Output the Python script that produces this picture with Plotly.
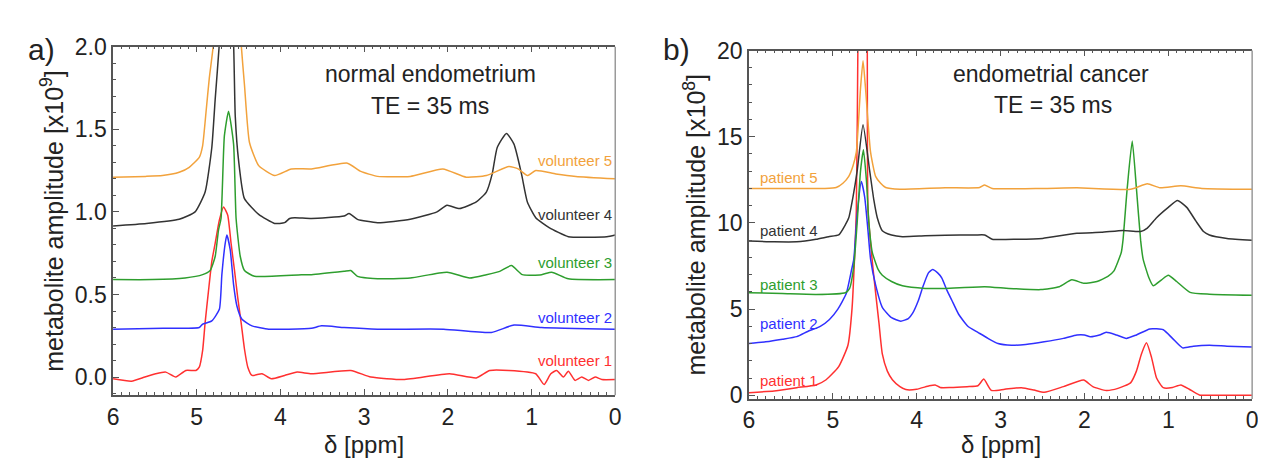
import plotly.graph_objects as go

# ---------------- data: panel a (normal endometrium), amplitude in 1e9 ----------------
v1_ppm = [6.0, 5.78, 5.62, 5.49, 5.37, 5.25, 5.13, 5.01, 4.97, 4.93, 4.90, 4.86, 4.82, 4.78, 4.73, 4.68,
          4.63, 4.59, 4.55, 4.51, 4.47, 4.43, 4.39, 4.34, 4.22, 4.11, 3.95, 3.80, 3.63, 3.16, 2.92,
          2.53, 1.98, 1.66, 1.50, 1.27, 0.95, 0.85, 0.77, 0.70, 0.62, 0.56, 0.48, 0.40, 0.32, 0.24, 0.16, 0.0]
v1_amp = [-0.01, -0.025, 0.0, 0.02, 0.03, 0.0, 0.04, 0.04, 0.06, 0.16, 0.33, 0.52, 0.70, 0.81, 0.95, 1.03,
          0.98, 0.81, 0.65, 0.48, 0.33, 0.17, 0.06, 0.01, 0.02, -0.01, 0.01, 0.03, 0.02, 0.04, 0.0,
          -0.015, 0.02, -0.005, 0.04, 0.04, 0.02, -0.045, 0.02, 0.04, 0.0, 0.035, -0.02, 0.0, -0.02, 0.0, -0.015, -0.015]

v2_ppm = [6.0, 5.4, 4.97, 4.93, 4.82, 4.73, 4.70, 4.66, 4.64, 4.60, 4.56, 4.52, 4.46, 4.34, 4.14, 3.90,
          3.63, 3.51, 3.24, 2.84, 2.05, 1.48, 1.21, 0.88, 0.0]
v2_amp = [0.29, 0.295, 0.30, 0.32, 0.34, 0.41, 0.62, 0.81, 0.86, 0.77, 0.56, 0.43, 0.35, 0.31, 0.29, 0.29,
          0.295, 0.31, 0.30, 0.29, 0.29, 0.27, 0.315, 0.30, 0.29]

v3_ppm = [6.0, 5.53, 5.14, 4.93, 4.84, 4.78, 4.74, 4.71, 4.67, 4.62, 4.56, 4.53, 4.48, 4.43, 4.31, 3.75,
          3.63, 3.24, 3.16, 3.08, 2.84, 2.45, 2.01, 1.74, 1.54, 1.38, 1.24, 1.11, 0.88, 0.76, 0.56, 0.0]
v3_amp = [0.59, 0.59, 0.60, 0.62, 0.645, 0.73, 0.89, 0.96, 1.46, 1.61, 1.41, 0.96, 0.73, 0.645, 0.61, 0.62,
          0.62, 0.64, 0.645, 0.61, 0.595, 0.60, 0.635, 0.60, 0.62, 0.64, 0.675, 0.62, 0.62, 0.635, 0.595, 0.59]

v4_ppm = [6.0, 5.6, 5.21, 5.02, 4.90, 4.82, 4.78, 4.73, 4.645, 4.56, 4.54, 4.50, 4.43, 4.26, 4.07, 3.95,
          3.89, 3.83, 3.63, 3.24, 3.18, 3.08, 2.84, 2.45, 2.13, 2.01, 1.86, 1.66, 1.54, 1.47, 1.41, 1.30,
          1.21, 1.12, 1.05, 0.95, 0.79, 0.56, 0.10, 0.0]
v4_amp = [0.915, 0.93, 0.955, 1.0, 1.12, 1.39, 1.68, 2.02, 2.8, 2.02, 1.58, 1.31, 1.08, 0.985, 0.93, 0.935,
          0.96, 0.965, 0.96, 0.975, 0.99, 0.955, 0.935, 0.955, 1.0, 1.04, 1.02, 1.06, 1.12, 1.23, 1.39, 1.475,
          1.41, 1.23, 1.06, 0.965, 0.905, 0.85, 0.85, 0.86]

v5_ppm = [6.0, 5.61, 5.41, 5.21, 5.09, 4.97, 4.93, 4.89, 4.85, 4.80, 4.635, 4.47, 4.43, 4.37, 4.26, 4.07,
          3.87, 3.63, 3.20, 3.04, 2.84, 2.45, 2.06, 1.78, 1.54, 1.27, 1.16, 1.05, 0.95, 0.71, 0.47, 0.0]
v5_amp = [1.21, 1.215, 1.22, 1.24, 1.27, 1.33, 1.40, 1.60, 1.81, 2.02, 3.5, 2.02, 1.77, 1.42, 1.28, 1.22,
          1.26, 1.26, 1.295, 1.245, 1.215, 1.215, 1.26, 1.21, 1.22, 1.275, 1.26, 1.22, 1.25, 1.23, 1.215, 1.20]

# ---------------- data: panel b (endometrial cancer), amplitude in 1e8 ----------------
p1_ppm = [6.0, 5.7, 5.43, 5.2, 5.08, 4.93, 4.82, 4.77, 4.72, 4.70, 4.645, 4.59, 4.58, 4.52, 4.45, 4.41,
          4.35, 4.29, 4.2, 4.13, 4.0, 3.85, 3.78, 3.72, 3.6, 3.4, 3.27, 3.2, 3.11, 2.95, 2.75, 2.6, 2.48,
          2.25, 2.01, 1.9, 1.74, 1.6, 1.45, 1.38, 1.32, 1.26, 1.2, 1.14, 1.06, 0.95, 0.85, 0.75, 0.63, 0.4, 0.0]
p1_amp = [0.15, 0.25, 0.44, 0.6, 0.9, 1.66, 2.9, 5.1, 10.7, 21.0, 40.0, 21.0, 10.7, 7.3, 4.2, 2.4,
          1.4, 0.9, 0.5, 0.33, 0.35, 0.55, 0.6, 0.45, 0.45, 0.5, 0.55, 0.94, 0.28, 0.35, 0.44, 0.3, 0.17,
          0.5, 0.88, 0.5, 0.28, 0.4, 0.72, 1.4, 2.4, 3.04, 2.2, 1.0, 0.44, 0.45, 0.6, 0.35, 0.02, 0.0, 0.0]

p2_ppm = [6.0, 5.8, 5.6, 5.43, 5.3, 5.15, 5.04, 4.94, 4.84, 4.78, 4.75, 4.71, 4.66, 4.62, 4.58, 4.55,
          4.49, 4.41, 4.3, 4.19, 4.1, 4.05, 3.98, 3.93, 3.86, 3.81, 3.75, 3.70, 3.64, 3.58, 3.5, 3.39,
          3.27, 3.15, 3.03, 2.87, 2.7, 2.48, 2.25, 2.09, 2.0, 1.93, 1.82, 1.74, 1.62, 1.50, 1.38, 1.22,
          1.06, 0.95, 0.83, 0.7, 0.51, 0.3, 0.0]
p2_amp = [3.0, 3.1, 3.25, 3.4, 3.7, 4.0, 4.4, 5.0, 5.9, 7.2, 7.9, 10.5, 12.4, 11.5, 9.5, 7.9,
          6.4, 5.1, 4.5, 4.3, 4.45, 4.75, 5.5, 6.24, 7.1, 7.3, 7.1, 6.8, 6.1, 5.5, 4.7, 4.0,
          3.65, 3.3, 3.0, 2.9, 2.95, 3.1, 3.3, 3.5, 3.5, 3.4, 3.5, 3.65, 3.5, 3.3, 3.5, 3.85,
          3.8, 3.3, 2.75, 2.85, 2.9, 2.85, 2.8]

p3_ppm = [6.0, 5.6, 5.2, 4.85, 4.80, 4.75, 4.71, 4.67, 4.635, 4.60, 4.57, 4.53, 4.46, 4.41, 4.30, 4.17,
          3.9, 3.66, 3.19, 2.9, 2.52, 2.3, 2.15, 2.01, 1.85, 1.72, 1.65, 1.56, 1.54, 1.49, 1.43, 1.38,
          1.33, 1.30, 1.23, 1.18, 1.08, 1.0, 0.9, 0.74, 0.51, 0.0]
p3_amp = [5.95, 5.9, 5.85, 5.95, 6.2, 7.5, 10.0, 13.0, 14.25, 12.5, 10.0, 8.3, 7.3, 6.96, 6.6, 6.35,
          6.2, 6.2, 6.3, 6.2, 6.13, 6.3, 6.7, 6.5, 6.6, 6.9, 7.2, 8.3, 9.0, 12.0, 14.75, 12.0,
          9.0, 7.9, 6.8, 6.35, 6.7, 6.96, 6.6, 5.97, 5.86, 5.8]

p4_ppm = [6.0, 5.7, 5.43, 5.2, 5.05, 4.93, 4.85, 4.81, 4.76, 4.71, 4.64, 4.56, 4.51, 4.47, 4.41, 4.3,
          4.17, 3.9, 3.66, 3.3, 3.19, 3.1, 2.8, 2.5, 2.09, 1.8, 1.54, 1.33, 1.25, 1.14, 1.0, 0.89,
          0.78, 0.67, 0.58, 0.51, 0.3, 0.0]
p4_amp = [8.95, 8.9, 8.9, 9.05, 9.2, 9.3, 9.9, 10.3, 11.5, 13.0, 15.7, 13.0, 11.3, 10.3, 9.55, 9.3,
          9.2, 9.25, 9.28, 9.3, 9.3, 9.05, 9.05, 9.1, 9.4, 9.45, 9.56, 9.5, 9.7, 10.3, 10.9, 11.3,
          10.9, 10.1, 9.5, 9.3, 9.1, 9.0]

p5_ppm = [6.0, 5.5, 5.1, 4.96, 4.88, 4.81, 4.76, 4.72, 4.67, 4.64, 4.61, 4.55, 4.49, 4.43, 4.37, 4.2,
          3.66, 3.25, 3.19, 3.1, 2.5, 2.09, 1.45, 1.25, 1.1, 0.85, 0.6, 0.0]
p5_amp = [12.0, 12.0, 12.0, 12.05, 12.3, 12.7, 13.3, 14.1, 17.8, 19.4, 17.8, 14.1, 12.7, 12.3, 12.05, 11.95,
          12.04, 12.05, 12.2, 12.0, 12.0, 12.04, 11.95, 12.27, 12.04, 12.15, 12.0, 11.95]

x_ticks = [6, 5, 4, 3, 2, 1, 0]
a_yticks = [0.0, 0.5, 1.0, 1.5, 2.0]
b_yticks = [0, 5, 10, 15, 20]
a_labels = ["volunteer 1", "volunteer 2", "volunteer 3", "volunteer 4", "volunteer 5"]
b_labels = ["patient 1", "patient 2", "patient 3", "patient 4", "patient 5"]

# ---------------- styling ----------------
W, H = 1266, 461
FONT = "Liberation Sans, Arial, sans-serif"
colors = ["#ff3030", "#3030ff", "#2e9e2e", "#333333", "#f2a23c"]


def px(x):
    return x / W


def py(y):
    return 1 - y / H


fig = go.Figure()

a_series = [(v1_ppm, v1_amp), (v2_ppm, v2_amp), (v3_ppm, v3_amp), (v4_ppm, v4_amp), (v5_ppm, v5_amp)]
b_series = [(p1_ppm, p1_amp), (p2_ppm, p2_amp), (p3_ppm, p3_amp), (p4_ppm, p4_amp), (p5_ppm, p5_amp)]

for (xs, ys), c in zip(a_series, colors):
    fig.add_trace(go.Scatter(x=xs, y=ys, mode="lines", line=dict(color=c, width=1.5, shape="spline", smoothing=0.5),
                             xaxis="x", yaxis="y", hoverinfo="skip"))
for (xs, ys), c in zip(b_series, colors):
    fig.add_trace(go.Scatter(x=xs, y=ys, mode="lines", line=dict(color=c, width=1.5, shape="spline", smoothing=0.5),
                             xaxis="x2", yaxis="y2", hoverinfo="skip"))

axis_common = dict(showline=True, linecolor="#555555", linewidth=1.5, ticks="inside", ticklen=6,
                   tickcolor="#555555", tickwidth=1.2, showgrid=False, zeroline=False,
                   tickfont=dict(family=FONT, size=23, color="#222222"))

xa = dict(axis_common, range=[6, 0], tickvals=x_ticks, mirror="ticks",
          minor=dict(dtick=0.1, ticklen=3, ticks="inside", tickcolor="#555555", tickwidth=1))

fig.update_layout(
    width=W, height=H, margin=dict(l=0, r=0, t=0, b=0),
    paper_bgcolor="white", plot_bgcolor="white", showlegend=False, hovermode=False,
    xaxis=dict(xa, domain=[px(100), px(607)], anchor="y"),
    xaxis2=dict(xa, domain=[px(742), px(1250)], anchor="y2"),
    yaxis=dict(axis_common, domain=[py(393), py(27)], range=[-0.11, 2.0], tickvals=a_yticks,
               tickformat=".1f", anchor="x",
               minor=dict(dtick=0.1, ticklen=3, ticks="inside", tickcolor="#555555", tickwidth=1),
               title=dict(text="metabolite amplitude [x10<sup>9</sup>]", font=dict(family=FONT, size=25, color="#222222"),
                          standoff=4)),
    yaxis2=dict(axis_common, domain=[py(397), py(31)], range=[-0.22, 20], tickvals=b_yticks,
                anchor="x2",
                minor=dict(dtick=1, ticklen=3, ticks="inside", tickcolor="#555555", tickwidth=1),
                title=dict(text="metabolite amplitude [x10<sup>8</sup>]", font=dict(family=FONT, size=25, color="#222222"),
                           standoff=4)),
)

# right-hand frame edges (lighter gray)
for xr, yr in [("x domain", "y domain"), ("x2 domain", "y2 domain")]:
    fig.add_shape(type="line", xref=xr, yref=yr, x0=1, x1=1, y0=0, y1=1,
                  line=dict(color="#9a9a9a", width=1.5))

ann = []
# panel letters
ann.append(dict(text="a)", x=px(28), y=py(30), font=dict(size=30)))
ann.append(dict(text="b)", x=px(669), y=py(30), font=dict(size=30)))
# panel titles
ann.append(dict(text="normal endometrium", x=px(420), y=py(56), font=dict(size=23)))
ann.append(dict(text="TE = 35 ms", x=px(420), y=py(89), font=dict(size=23)))
ann.append(dict(text="endometrial cancer", x=px(1047), y=py(56), font=dict(size=23)))
ann.append(dict(text="TE = 35 ms", x=px(1049), y=py(88), font=dict(size=23)))
# x-axis titles
ann.append(dict(text="δ [ppm]", x=px(353), y=py(445), font=dict(size=24)))
ann.append(dict(text="δ [ppm]", x=px(996), y=py(445), font=dict(size=24)))

a_label_y = [357, 311, 254, 203, 146]
b_label_y = [378, 318, 277, 220, 164]
for t, yy, c in zip(a_labels, a_label_y, colors):
    ann.append(dict(text=t, x=px(606), y=py(yy), xanchor="right", font=dict(size=15, color=c)))
for t, yy, c in zip(b_labels, b_label_y, colors):
    ann.append(dict(text=t, x=px(751), y=py(yy), xanchor="left", font=dict(size=15, color=c)))

for a in ann:
    a.setdefault("xanchor", "center")
    f = a["font"]
    f.setdefault("color", "#222222")
    f["family"] = FONT
    fig.add_annotation(xref="paper", yref="paper", showarrow=False, yanchor="middle", **a)

fig.write_html("out.html")
